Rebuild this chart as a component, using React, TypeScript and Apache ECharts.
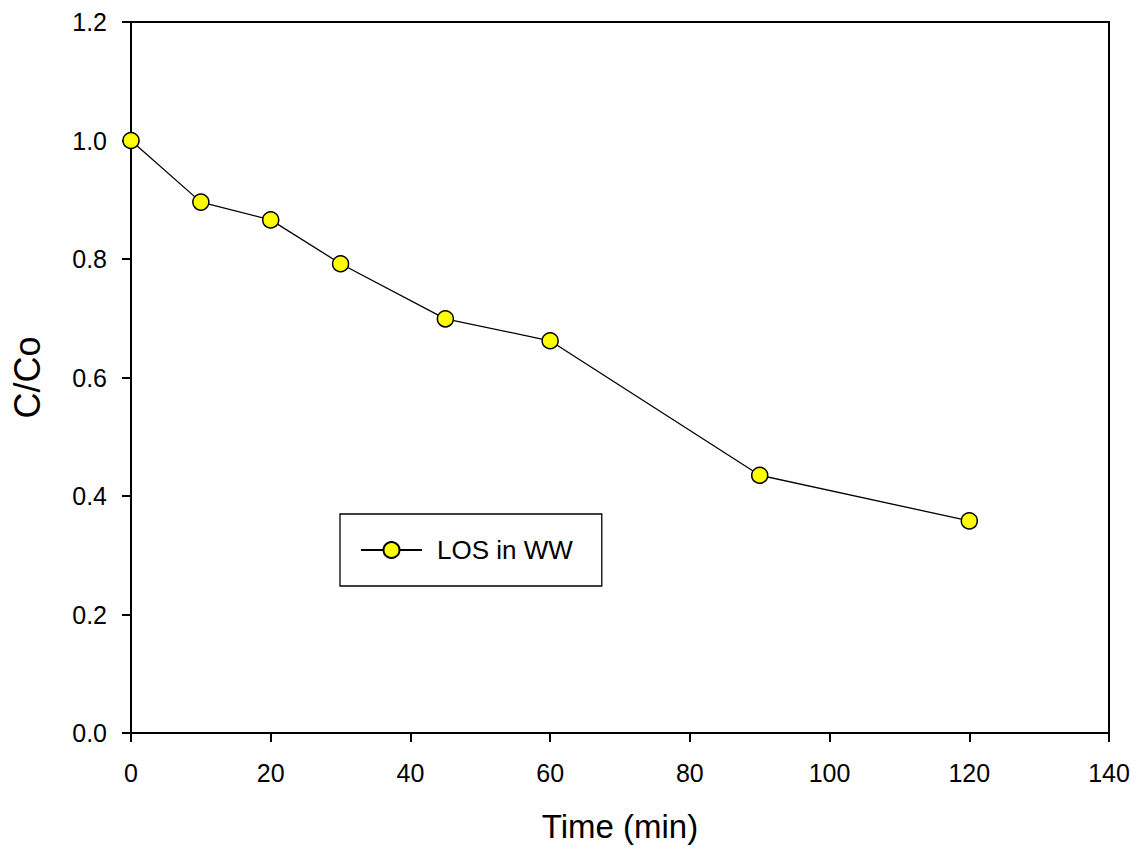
import React, { useEffect, useRef } from "react";
import * as echarts from "echarts";

const seriesName = "LOS in WW";
const timeMin = [0, 10, 20, 30, 45, 60, 90, 120];
const ratio = [1.0, 0.896, 0.866, 0.792, 0.699, 0.662, 0.435, 0.358];
const xTitle = "Time (min)";
const yTitle = "C/Co";

const FONT = "'Liberation Sans', Arial, Helvetica, sans-serif";

export default function App() {
  const ref = useRef<HTMLDivElement>(null);
  useEffect(() => {
    if (!ref.current) return;
    const chart = echarts.init(ref.current, undefined, { renderer: "svg" });
    chart.setOption({
      animation: false,
      backgroundColor: "#ffffff",
      textStyle: { fontFamily: FONT },
      grid: {
        left: 131,
        top: 22,
        right: 27,
        bottom: 117,
        show: true,
        borderColor: "#000",
        borderWidth: 2,
        backgroundColor: "transparent",
      },
      legend: {
        left: 340,
        top: 514,
        orient: "vertical",
        padding: [23, 29, 23, 20],
        borderColor: "#000",
        borderWidth: 1.3,
        itemWidth: 61,
        itemHeight: 20,
        itemGap: 0,
        textStyle: { fontFamily: FONT, fontSize: 26, color: "#000", padding: [0, 0, 0, 10] },
        data: [seriesName],
      },
      xAxis: {
        type: "value",
        min: 0,
        max: 140,
        interval: 20,
        name: xTitle,
        nameLocation: "middle",
        nameGap: 77,
        nameTextStyle: { fontFamily: FONT, fontSize: 33, color: "#000" },
        axisLine: { show: true, onZero: false, lineStyle: { color: "#000", width: 2 } },
        axisTick: { show: true, inside: false, length: 9, lineStyle: { color: "#000", width: 2 } },
        axisLabel: { fontFamily: FONT, fontSize: 25, color: "#000", margin: 27 },
        splitLine: { show: false },
      },
      yAxis: {
        type: "value",
        min: 0,
        max: 1.2,
        interval: 0.2,
        name: yTitle,
        nameLocation: "middle",
        nameGap: 86,
        nameTextStyle: { fontFamily: FONT, fontSize: 36, color: "#000" },
        axisLine: { show: true, onZero: false, lineStyle: { color: "#000", width: 2 } },
        axisTick: { show: true, inside: false, length: 9, lineStyle: { color: "#000", width: 2 } },
        axisLabel: {
          fontFamily: FONT,
          fontSize: 25,
          color: "#000",
          margin: 24,
          formatter: (v: number) => v.toFixed(1),
        },
        splitLine: { show: false },
      },
      series: [
        {
          name: seriesName,
          type: "line",
          data: timeMin.map((t, i) => [t, ratio[i]]),
          symbol: "circle",
          symbolSize: 16,
          lineStyle: { color: "#000", width: 1.3 },
          itemStyle: { color: "#ffff00", borderColor: "#000", borderWidth: 1.5 },
          clip: false,
          z: 3,
        },
      ],
    });
    return () => chart.dispose();
  }, []);
  return (
    <div
      ref={ref}
      style={{ position: "fixed", left: 0, top: 0, width: 1136, height: 850 }}
    />
  );
}
